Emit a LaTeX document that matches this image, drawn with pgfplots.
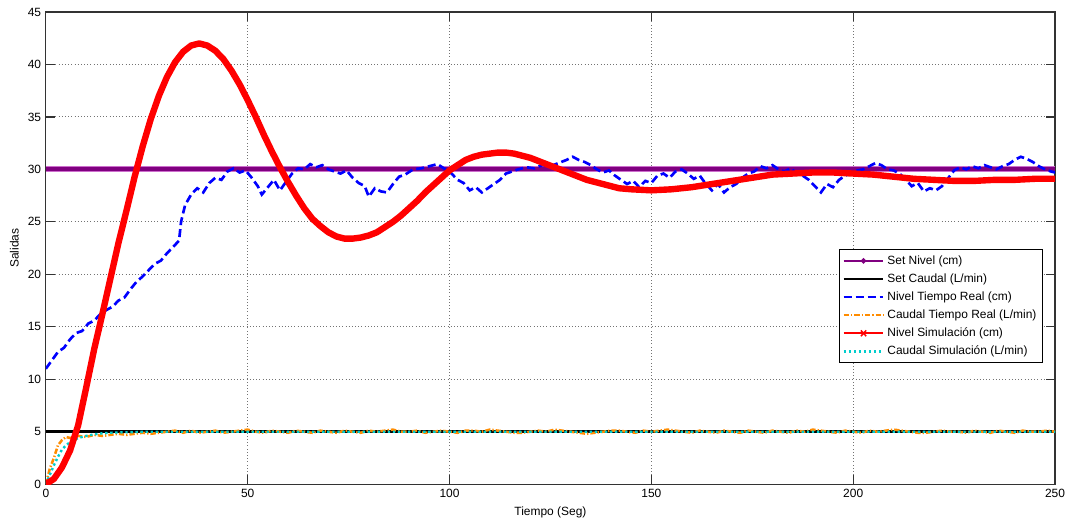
\documentclass[border=0pt]{standalone}
\usepackage{fontspec}
\setmainfont{Liberation Sans}
\usepackage{pgfplots}
\pgfplotsset{compat=1.18}
\definecolor{mpurple}{RGB}{128,0,128}
\definecolor{mpurpleedge}{RGB}{205,110,205}
\definecolor{mblue}{RGB}{0,0,255}
\definecolor{morange}{RGB}{255,140,0}
\definecolor{mred}{RGB}{255,0,0}
\definecolor{mcyan}{RGB}{0,205,205}
\pgfplotsset{
  legline/.style={legend image code/.code={\draw[##1] (0cm,0cm) -- (1.05cm,0cm);}},
  legdot/.style={legend image code/.code={\draw[##1] (0cm,0cm) -- (1.05cm,0cm); \fill[mpurple] (0.525cm,0cm) circle (1.4pt);}},
  legx/.style={legend image code/.code={\draw[color=mred, line width=1.4pt, solid] (0cm,0cm) -- (1.05cm,0cm); \draw[color=mred, line width=1.1pt, solid] (0.455cm,-2.2pt) -- (0.595cm,2.2pt) (0.455cm,2.2pt) -- (0.595cm,-2.2pt);}},
}
\begin{document}
\begin{tikzpicture}
\useasboundingbox (-34.5pt,-27.75pt) rectangle (768pt,364.5pt);
\begin{axis}[
  at={(0pt,0pt)}, anchor=south west,
  scale only axis,
  width=759.75pt, height=355.5pt,
  xmin=0, xmax=250, ymin=0, ymax=45,
  xtick={0,50,100,150,200,250},
  ytick={0,5,10,15,20,25,30,35,40,45},
  /pgf/number format/assume math mode=true,
  tick label style={font=\fontsize{9}{10}\selectfont},
  label style={font=\fontsize{9}{10}\selectfont},
  xlabel={Tiempo (Seg)},
  ylabel={Salidas},
  axis line style={line width=1pt, black!80},
  tick style={line width=1pt, black!80},
  major tick length=7pt,
  tick align=inside,
  xmajorgrids, ymajorgrids,
  major grid style={dotted, black!55, line width=0.7pt},
  legend style={at={(rel axis cs:0.988,0.498)}, anchor=north east,
    font=\fontsize{9}{10}\selectfont, draw=black, line width=0.8pt,
    fill=white, row sep=1.6pt, inner sep=2.5pt},
  legend cell align=left,
]
% Set Caudal
\addplot[forget plot, black, line width=2pt] coordinates {(0,5) (250,5)};
% Caudal Tiempo Real
\addplot[forget plot, morange, line width=1.9pt, dash pattern=on 4pt off 1.5pt on 1pt off 1.5pt] coordinates {
(0,0) (1,1.5) (2,2.5) (3,3.7) (4,4.2) (5,4.5) (6,4.4) (8,4.6) (10,4.5) (12,4.7) (14,4.6) (16,4.7) (18,4.8) (20,4.7) (22,4.8) (24,4.9) (26,4.8) (28,4.9)
(30,5.0) (32,5.1) (34,4.9) (36,5.1) (38,4.9) (40,5.0) (42,5.1) (44,4.9) (46,5.0) (48,5.1) (50,5.2) (52,5.0) (54,4.9) (56,5.1) (58,5.0) (60,4.9) (62,5.1) (64,5.0) (66,4.9) (68,5.1) (70,5.0) (72,4.9) (74,5.1) (76,5.0) (78,4.9) (80,5.1) (82,5.0) (84,5.1) (86,5.2) (88,5.0) (90,5.0) (92,5.1) (94,4.9) (96,5.0) (98,5.1)
(100,5.0) (102,4.9) (104,5.1) (106,5.1) (108,5.0) (110,5.2) (112,5.1) (114,5.0) (116,4.9) (118,4.9) (120,5.0) (122,5.1) (124,5.0) (126,5.2) (128,5.1) (130,5.0) (132,4.9) (134,4.8) (136,4.9) (138,5.0) (140,5.1) (142,5.1) (144,5.0) (146,4.9) (148,5.1) (150,5.0)
(152,5.1) (154,5.2) (156,5.1) (158,5.0) (160,4.9) (162,5.1) (164,5.0) (166,4.9) (168,5.1) (170,5.0) (172,4.9) (174,5.1) (176,5.0) (178,4.9) (180,5.1) (182,5.0) (184,4.9) (186,5.1) (188,5.0) (190,5.2) (192,5.1) (194,5.0) (196,4.9) (198,5.1) (200,5.0)
(202,4.9) (204,5.1) (206,5.0) (208,5.1) (210,5.2) (212,5.1) (214,5.0) (216,4.9) (218,4.9) (220,5.0) (222,5.1) (224,5.0) (226,5.0) (228,4.9) (230,5.1) (232,5.0) (234,4.9) (236,5.1) (238,5.0) (240,4.9) (242,5.1) (244,5.0) (246,5.0) (248,5.1) (250,5.0)};
% Caudal Simulacion
\addplot[forget plot, mcyan, line width=1.8pt, dotted] coordinates {
(0,0) (1,0.9) (2,1.8) (3,2.6) (4,3.3) (5,3.7) (6,4.0) (7,4.2) (8,4.4) (9,4.5) (10,4.6) (12,4.75) (14,4.85) (16,4.9) (20,4.95) (25,5.0) (250,5.0)};
% Set Nivel
\addplot[forget plot, mpurpleedge, line width=4.6pt] coordinates {(0,30) (250,30)};
\addplot[forget plot, mpurple, line width=3pt] coordinates {(0,30) (250,30)};
% Nivel Tiempo Real
\addplot[forget plot, mblue, line width=2pt, dash pattern=on 6pt off 3pt] coordinates {
(0,11.0) (1.5,11.8) (3,12.6) (4.5,13.0) (6,13.8) (7.5,14.4) (9,14.6) (10.5,15.3) (12,15.6) (13.5,16.2) (15,16.6) (16.5,16.9) (18,17.5) (19.5,17.8) (21,18.6) (22.5,19.3) (24,19.8) (25.5,20.4) (27,21.0) (28.5,21.3) (30,22.0) (31.5,22.6) (33,23.2) (33.5,25.0) (34.5,26.6) (36,27.6) (37.5,28.2) (39,27.8) (40.5,28.7) (42,29.2) (43.5,29.0) (45,29.8) (46.5,30.1) (48,29.7) (49.5,29.9)
(51,29.2) (52.5,28.4) (53.5,27.6) (55,28.3) (56.5,29.0) (58,28.0) (59.5,28.8) (61,29.6) (62.5,30.1) (64,30.0) (65.5,30.5) (67,30.2) (68.5,30.4) (70,30.0) (71.5,29.8) (73,29.6) (74.5,29.9) (76,29.2) (77.5,28.7) (79,28.4) (80,27.4) (81.5,28.2) (83,27.9) (84.5,27.8) (86,28.6) (87.5,29.3) (89,29.5) (91,30.0) (93,30.1) (95,30.3) (97,30.5) (99,30.0)
(100.5,29.6) (102,29.0) (103.5,28.7) (105,28.0) (106.5,28.3) (108,27.8) (109.5,28.2) (111,28.6) (112.5,29.0) (114,29.6) (115.5,29.8) (117,30.0) (119,30.2) (121,30.1) (123,30.4) (125,30.3) (127,30.6) (129,30.9) (130.5,31.2) (132,30.9) (133.5,30.7) (135,30.4) (136.5,30.0) (138,29.7) (139.5,29.9) (141,29.4) (142.5,29.0) (144,28.6) (145.5,28.9) (147,28.3) (148.5,28.9) (150,28.7)
(151.5,29.4) (153,29.6) (154.5,29.2) (156,29.8) (157.5,30.0) (159,29.6) (160.5,29.1) (162,29.4) (163.5,28.6) (165,28.0) (166.5,28.6) (168,27.8) (169.5,28.3) (171,28.6) (172.5,29.2) (174,29.6) (175.5,29.8) (177,30.3) (178.5,30.1) (180,30.4) (181.5,30.0) (183,29.8) (184.5,30.1) (186,29.6) (187.5,29.4) (189,29.0) (190.5,28.4) (192,27.8) (193.5,28.6) (195,28.3) (196.5,29.0) (198,29.4) (199.5,29.6)
(201,29.9) (202.5,30.0) (204,30.3) (205.5,30.6) (207,30.4) (208.5,30.0) (210,29.9) (211.5,29.6) (213,29.0) (214.5,28.4) (216,28.7) (217.5,27.9) (219,28.2) (220.5,28.0) (222,28.4) (225,29.9) (226.5,30.2) (228,30.0) (229.5,30.3) (231,30.1) (232.5,30.4) (234,30.2) (235.5,30.0) (237,30.3) (238.5,30.5) (240,30.9) (241.5,31.2) (243,31.0) (244.5,30.7) (246,30.3) (247.5,30.0) (249,29.8) (250,29.7)};
% Nivel Simulacion
\addplot[forget plot, mred, line width=4.8pt, line join=round] coordinates {
(0,0) (2,0.5) (4,1.6) (6,3.2) (8,5.6) (10,9.2) (12,12.9) (14,16.2) (16,19.6) (18,23.0) (20,26.1) (22,29.3) (24,32.2) (26,34.8) (28,37.0) (30,38.8) (32,40.2) (34,41.2) (36,41.8) (38,42.0)
(40,41.8) (42,41.3) (44,40.5) (46,39.4) (48,38.1) (50,36.6) (52,35.0) (54,33.3) (56,31.7) (58,30.2) (60,28.8) (62,27.5) (64,26.3) (66,25.3) (68,24.6) (70,24.0) (72,23.6) (74,23.4) (76,23.4)
(78,23.5) (80,23.7) (82,24.0) (84,24.5) (86,25.0) (88,25.6) (90,26.3) (92,27.0) (94,27.8) (96,28.5) (98,29.2) (100,29.9) (102,30.4) (104,30.9) (106,31.2) (108,31.4) (110,31.5) (112,31.6) (114,31.6) (116,31.5) (118,31.3) (120,31.1) (122,30.8) (124,30.5) (126,30.2) (128,29.9) (130,29.6) (132,29.3) (134,29.0) (136,28.8) (138,28.6) (140,28.4) (142,28.2) (145,28.1)
(150,28.0) (155,28.1) (160,28.3) (165,28.6) (170,28.9) (175,29.2) (180,29.5) (185,29.6) (190,29.7) (195,29.7) (200,29.6) (205,29.5) (210,29.3) (215,29.1) (220,29.0) (225,28.9) (230,28.9) (235,29.0) (240,29.0) (245,29.1) (250,29.1)};
% legend
\addlegendimage{mpurple, line width=1.2pt, legdot}
\addlegendentry{Set Nivel (cm)}
\addlegendimage{black, line width=2pt, legline}
\addlegendentry{Set Caudal (L/min)}
\addlegendimage{mblue, line width=2pt, dash pattern=on 6pt off 3pt, legline}
\addlegendentry{Nivel Tiempo Real (cm)}
\addlegendimage{morange, line width=1.9pt, dash pattern=on 4pt off 1.5pt on 1pt off 1.5pt, legline}
\addlegendentry{Caudal Tiempo Real (L/min)}
\addlegendimage{mred, legx}
\addlegendentry{Nivel Simulación (cm)}
\addlegendimage{mcyan, line width=1.8pt, dotted, legline}
\addlegendentry{Caudal Simulación (L/min)}
\end{axis}
\end{tikzpicture}
\end{document}
